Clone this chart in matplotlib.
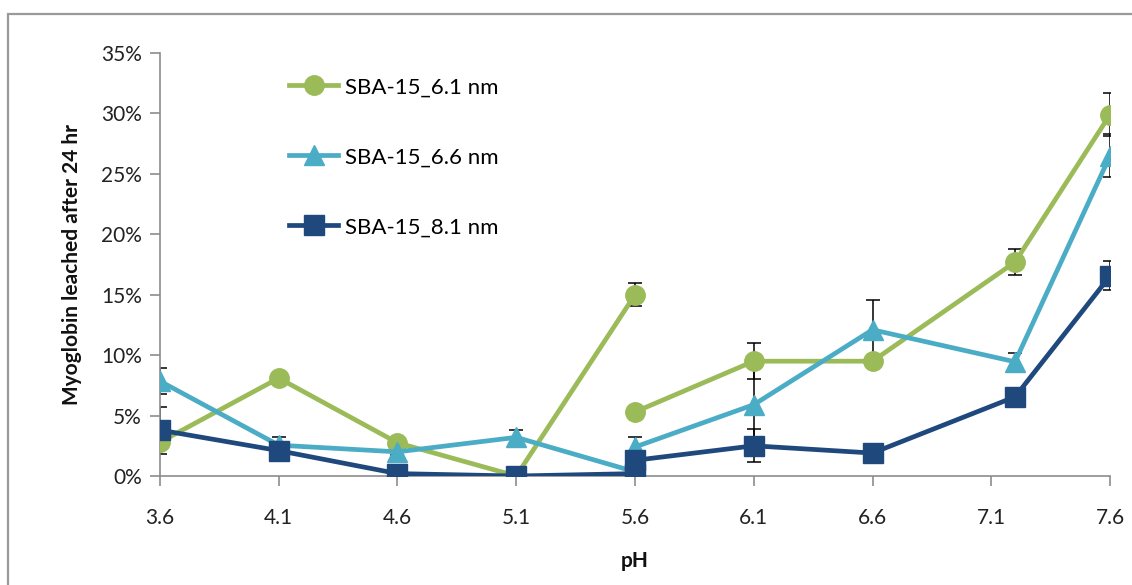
import numpy as np
import matplotlib
matplotlib.use("Agg")
import matplotlib.pyplot as plt
from matplotlib.patches import Rectangle
from matplotlib.ticker import FuncFormatter

plt.rcParams['font.family'] = ['Lato', 'DejaVu Sans']

# pH values; the data has a break after the 5th point (two runs at pH 5.6)
ph = [3.6, 4.1, 4.6, 5.1, 5.6, 5.6, 6.1, 6.6, 7.2, 7.6]
BREAK = 5

names = ["SBA-15_6.1 nm", "SBA-15_6.6 nm", "SBA-15_8.1 nm"]
sba61 = [2.8, 8.1, 2.75, 0.0, 15.0, 5.3, 9.5, 9.5, 17.7, 29.9]
sba66 = [7.85, 2.55, 2.0, 3.2, 0.35, 2.4, 5.9, 12.1, 9.45, 26.5]
sba81 = [3.8, 2.1, 0.2, 0.0, 0.2, 1.3, 2.5, 1.9, 6.55, 16.55]
err61 = [0.5, 0.3, 0.3, 0.0, 0.95, 0.3, 1.5, 0.3, 1.1, 1.8]
err66 = [1.1, 0.7, 0.3, 0.6, 0.2, 0.8, 3.5, 2.5, 0.7, 1.8]
err81 = [1.95, 0.4, 0.2, 0.0, 0.2, 0.5, 1.35, 0.3, 0.3, 1.2]

colors = ["#9BBB59", "#4BACC6", "#1F497D"]
markers = ["o", "^", "s"]
msizes = [14, 14, 15]

fig = plt.figure(figsize=(11.32, 5.85), dpi=100)
ax = fig.add_axes([0.1413, 0.1863, 0.8393, 0.7231])

# outer frame of the chart area
fig.patches.append(Rectangle((8 / 1132, -0.01), 1.0, (585 - 14) / 585 + 0.01,
                             transform=fig.transFigure, fill=False,
                             edgecolor="#9a9a9a", lw=1.6, zorder=0))

series = [sba61, sba66, sba81]
errors = [err61, err66, err81]
for vals, errs, name, c, m, ms in zip(series, errors, names, colors, markers, msizes):
    for i, (a, b) in enumerate([(0, BREAK), (BREAK, len(ph))]):
        ax.errorbar(ph[a:b], vals[a:b], yerr=errs[a:b], fmt="none",
                    ecolor="black", elinewidth=1.1, capsize=5, capthick=1.1, zorder=2)
        ax.plot(ph[a:b], vals[a:b], color=c, marker=m, markersize=ms, lw=3.4,
                label=name if i == 0 else None, zorder=3)

ax.set_xlim(3.6, 7.6)
ax.set_ylim(0, 35)
ax.set_xticks(np.arange(3.6, 7.61, 0.5))
ax.set_xticklabels(["3.6", "4.1", "4.6", "5.1", "5.6", "6.1", "6.6", "7.1", "7.6"])
ax.set_yticks(range(0, 36, 5))
ax.yaxis.set_major_formatter(FuncFormatter(lambda v, p: f"{v:.0f}%"))

for s in ["top", "right"]:
    ax.spines[s].set_visible(False)
for s in ["left", "bottom"]:
    ax.spines[s].set_color("#8c8c8c")
    ax.spines[s].set_linewidth(1.2)
ax.tick_params(axis="both", colors="#8c8c8c", length=7, width=1.2,
               labelsize=15, labelcolor="#222222")
ax.tick_params(axis="x", pad=16)
ax.tick_params(axis="y", pad=6)

ax.set_ylabel("Myoglobin leached after 24 hr", fontsize=15, fontweight="bold", color="#111111")
ax.yaxis.set_label_coords(-0.082, 0.5)
ax.set_xlabel("pH", fontsize=15, fontweight="bold", color="#111111")
ax.xaxis.set_label_coords(0.5, -0.177)

ax.legend(loc="upper left", bbox_to_anchor=(0.115, 0.99), frameon=False,
          fontsize=16, labelspacing=2.25, handlelength=2.2, handletextpad=0.3)

fig.savefig("out.png", dpi=100)
